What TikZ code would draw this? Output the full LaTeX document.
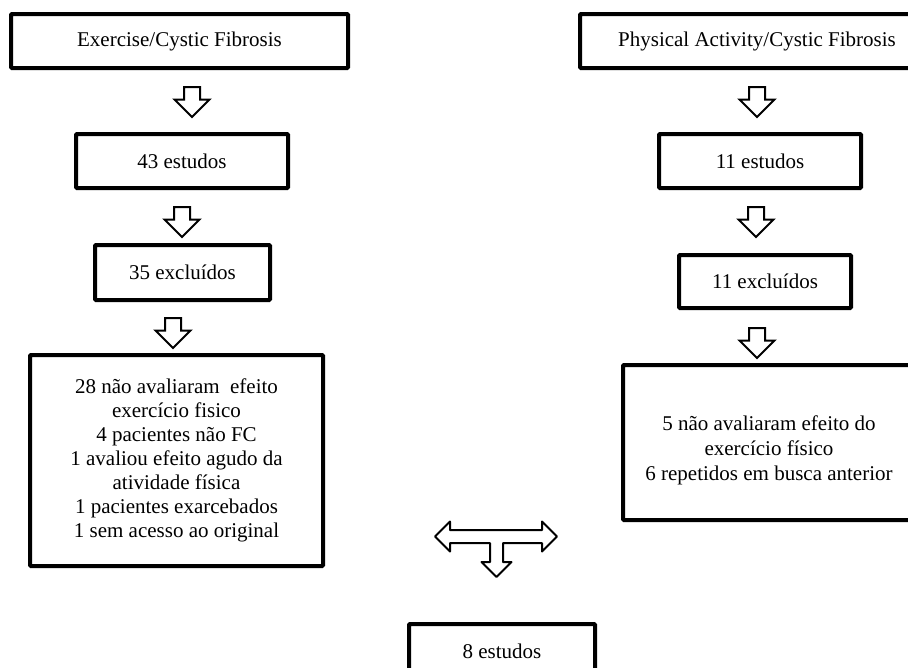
\documentclass[tikz,border=0pt]{standalone}
\usepackage{fontspec}
\setmainfont{Liberation Serif}
\usetikzlibrary{shapes.arrows,positioning,calc}
\tikzset{BOX/.style={rectangle, draw, line width=4pt, rounded corners=1pt, inner sep=0pt, align=center, font=\fontsize{21}{24}\selectfont}}
\tikzset{DOWN/.style={single arrow, draw, line width=2pt, shape border rotate=270, minimum height=30pt, minimum width=33pt, single arrow head extend=9.5pt, single arrow head indent=0pt, inner xsep=7pt, inner ysep=0pt}}

\begin{document}
\begin{tikzpicture}[x=1pt, y=-1pt]
    \useasboundingbox (0,0) rectangle (908,667);
    \clip (0,0) rectangle (908,667);

    \node[BOX, minimum width=337pt, minimum height=54pt] (n_exercise) at (179.5,41) {Exercise/Cystic Fibrosis};
    \node[BOX, minimum width=212pt, minimum height=54pt] (n_est43) at (182,161) {43 estudos};
    \node[BOX, minimum width=175pt, minimum height=55pt] (n_exc35) at (182.5,272.5) {35 excluídos};
    \node[BOX, minimum width=293pt, minimum height=211pt] (n_motivos_l) at (176.5,460.5) {
        28 não avaliaram~ efeito\\
        exercício fisico\\
        4 pacientes não FC\\
        1 avaliou efeito agudo da\\
        atividade física\\
        1 pacientes exarcebados\\
        1 sem acesso ao original
    };

    \node[BOX, minimum width=354pt, minimum height=54pt] (n_activity) at (757,41) {Physical Activity/Cystic Fibrosis};
    \node[BOX, minimum width=202pt, minimum height=54pt] (n_est11) at (760,161) {11 estudos};
    \node[BOX, minimum width=172pt, minimum height=53pt] (n_exc11) at (765,281.5) {11 excluídos};
    \node[BOX, minimum width=292pt, minimum height=155pt] (n_motivos_r) at (769,442.5) {
        \rule{0pt}{31pt}5 não avaliaram efeito do\\[1pt]
        exercício físico\\[1pt]
        6 repetidos em busca anterior
    };

    \node[BOX, minimum width=186pt, minimum height=54pt] (n_final) at (502,651) {8 estudos};

    \node[DOWN] (a_l1) at (192,98) {};
    \node[DOWN] (a_l2) at (182,218) {};
    \node[DOWN] (a_l3) at (173,329) {};
    \node[DOWN] (a_r1) at (757,98) {};
    \node[DOWN] (a_r2) at (756,218) {};
    \node[DOWN] (a_r3) at (757,339) {};

    \coordinate (t_center) at (496.5,536.5);
    \draw[line width=2pt, line join=round]
        ($(t_center)+(-61.5,0)$) -- ++(15,-15) -- ++(0,8.5) -- ++(92,0) -- ++(0,-8.5)
        -- ++(15,15) -- ++(-15,15) -- ++(0,-8.5) -- ++(-39,0) -- ++(0,19)
        -- ++(8.5,0) -- ++(-15,15) -- ++(-15,-15) -- ++(8.5,0) -- ++(0,-19)
        -- ++(-40,0) -- ++(0,8.5) -- cycle;
\end{tikzpicture}
\end{document}
